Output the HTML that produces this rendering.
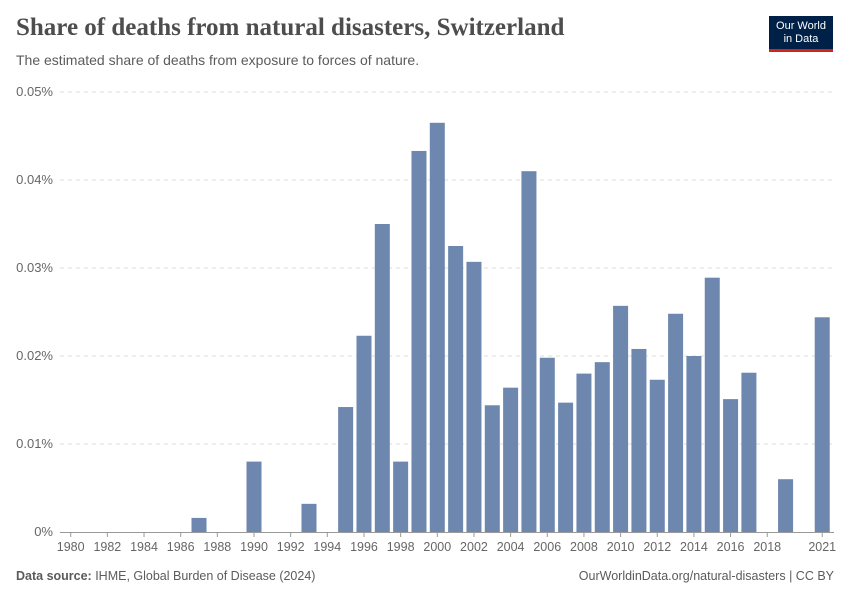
<!DOCTYPE html>
<html><head><meta charset="utf-8"><style>
body{margin:0;background:#fff;font-family:"Liberation Sans",sans-serif;}
#wrap{position:relative;width:850px;height:600px;overflow:hidden;}
.title{position:absolute;left:16px;top:14px;font-family:"Liberation Serif",serif;font-size:25px;color:#4d4d4d;font-weight:bold;}
.sub{position:absolute;left:16px;top:52px;font-size:14px;color:#5b5b5b;}
.logo{position:absolute;left:769px;top:16px;width:64px;height:36px;background:#002147;color:#fff;font-size:11px;text-align:center;line-height:13px;padding-top:4px;box-sizing:border-box;border-bottom:3px solid #ce261e;}
.foot{position:absolute;top:569px;font-size:12.5px;color:#5b5b5b;}
</style></head><body>
<div id="wrap">
<div class="title">Share of deaths from natural disasters, Switzerland</div>
<div class="sub">The estimated share of deaths from exposure to forces of nature.</div>
<div class="logo">Our World<br>in Data</div>
<svg id="chart" width="850" height="600" style="position:absolute;left:0;top:0"></svg>
<div class="foot" style="left:16px"><b>Data source:</b> IHME, Global Burden of Disease (2024)</div>
<div class="foot" style="right:16px">OurWorldinData.org/natural-disasters | CC BY</div>
</div>
<script>
const years=[1987,1990,1993,1995,1996,1997,1998,1999,2000,2001,2002,2003,2004,2005,2006,2007,2008,2009,2010,2011,2012,2013,2014,2015,2016,2017,2019,2021];
const values=[0.0016,0.0080,0.0032,0.0142,0.0223,0.0350,0.0080,0.0433,0.0465,0.0325,0.0307,0.0144,0.0164,0.0410,0.0198,0.0147,0.0180,0.0193,0.0257,0.0208,0.0173,0.0248,0.0200,0.0289,0.0151,0.0181,0.0060,0.0244];
const yTicks=[0,0.01,0.02,0.03,0.04,0.05];
const yTickLabels=["0%","0.01%","0.02%","0.03%","0.04%","0.05%"];
const xTicks=[1980,1982,1984,1986,1988,1990,1992,1994,1996,1998,2000,2002,2004,2006,2008,2010,2012,2014,2016,2018,2021];
const NS="http://www.w3.org/2000/svg";
const svg=document.getElementById('chart');
const y=v=>532-v/0.05*440;
const x=yr=>70.7+(yr-1980)*18.33;
function mk(t,a){const e=document.createElementNS(NS,t);for(const k in a)e.setAttribute(k,a[k]);svg.appendChild(e);return e;}
yTicks.forEach((v,i)=>{
 if(v>0){const l=mk('line',{x1:60,x2:834,y1:y(v),y2:y(v),stroke:'#ddd','stroke-dasharray':'4,4'});
 
 }
 const t=mk('text',{x:53,y:y(v)+4,'text-anchor':'end','font-size':13,fill:'#666','font-family':'Liberation Sans, sans-serif'});
 t.textContent=yTickLabels[i];
 
 
});
const ax=mk('line',{x1:60,x2:834,y1:532.5,y2:532.5,stroke:'#999'});


xTicks.forEach(yr=>{
 const tk=mk('line',{x1:x(yr),x2:x(yr),y1:532,y2:537,stroke:'#999'});
 
 
 const t=mk('text',{x:x(yr),y:551,'text-anchor':'middle','font-size':12.5,fill:'#666','font-family':'Liberation Sans, sans-serif'});
 t.textContent=yr;
 
 
});
years.forEach((yr,i)=>{
 const r=mk('rect',{x:x(yr)-7.5,y:y(values[i]),width:15,height:532-y(values[i]),fill:'#6d87ae'});
 
 
});
</script>
</body></html>
